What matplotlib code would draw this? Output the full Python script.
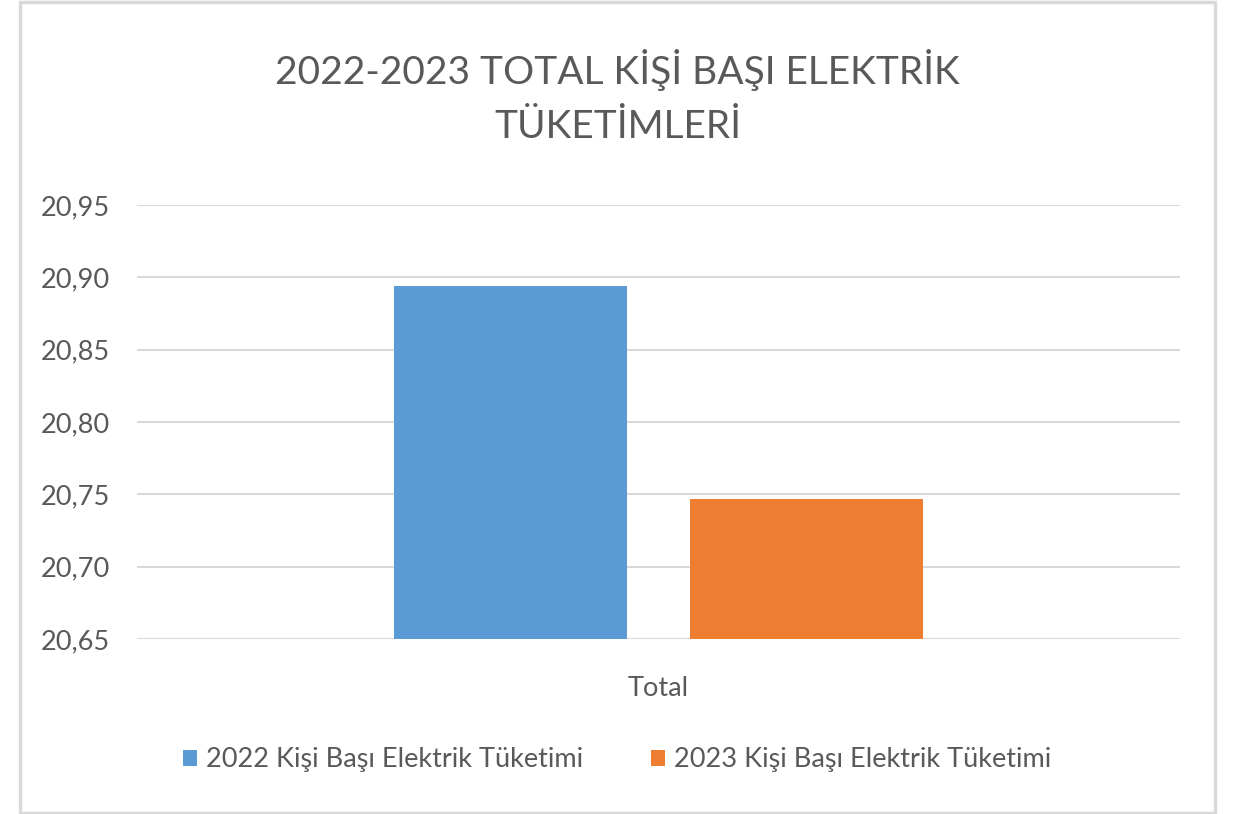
import matplotlib.pyplot as plt
from matplotlib.patches import Rectangle

# chart data
categories = ['Total']
series_names = ['2022 Kişi Başı Elektrik Tüketimi', '2023 Kişi Başı Elektrik Tüketimi']
series_values = [[20.894], [20.7465]]
colors = ['#5b9bd5', '#ed7d31']
yticks = [20.65, 20.70, 20.75, 20.80, 20.85, 20.90, 20.95]

plt.rcParams['font.family'] = ['Lato', 'DejaVu Sans']
text_color = '#595959'
grid_color = '#d9d9d9'

fig = plt.figure(figsize=(12.35, 8.14), dpi=100)
ax = fig.add_axes([137 / 1235, 1 - 639 / 814, (1180 - 137) / 1235, (639 - 205) / 814])

bar_w = 0.2234
offsets = [-0.1419, 0.1419]
for name, vals, col, off in zip(series_names, series_values, colors, offsets):
    ax.bar([i + off for i in range(len(categories))], vals, width=bar_w,
           color=col, label=name, zorder=3)

ax.set_xlim(-0.5, len(categories) - 0.5)
ax.set_ylim(yticks[0], yticks[-1])
ax.set_yticks(yticks)
ax.set_yticklabels([f'{v:.2f}'.replace('.', ',') for v in yticks])
ax.set_xticks(range(len(categories)))
ax.set_xticklabels(categories)
ax.tick_params(axis='both', length=0, labelsize=19.5, colors=text_color)
ax.tick_params(axis='y', pad=19.5)
ax.tick_params(axis='x', pad=27)
ax.grid(axis='y', color=grid_color, linewidth=1.5, zorder=0)
for s in ax.spines.values():
    s.set_visible(False)

fig.text(0.5, 1 - 97 / 814, '2022-2023 TOTAL KİŞİ BAŞI ELEKTRİK\nTÜKETİMLERİ',
         ha='center', va='center', fontsize=28, color=text_color, linespacing=1.6)

fig.legend(loc='center', bbox_to_anchor=(0.5, 1 - 760 / 814), ncol=2, frameon=False,
           fontsize=19.5, labelcolor=text_color, handlelength=0.5, handleheight=0.5,
           handletextpad=0.35, columnspacing=2.5)

# chart area border
fig.patches.append(Rectangle((20 / 1235, 1 / 814), (1215 - 20) / 1235, (812 - 1) / 814,
                             transform=fig.transFigure, fill=False,
                             edgecolor=grid_color, linewidth=2.5))

fig.savefig('out.png', dpi=100, facecolor='white')
